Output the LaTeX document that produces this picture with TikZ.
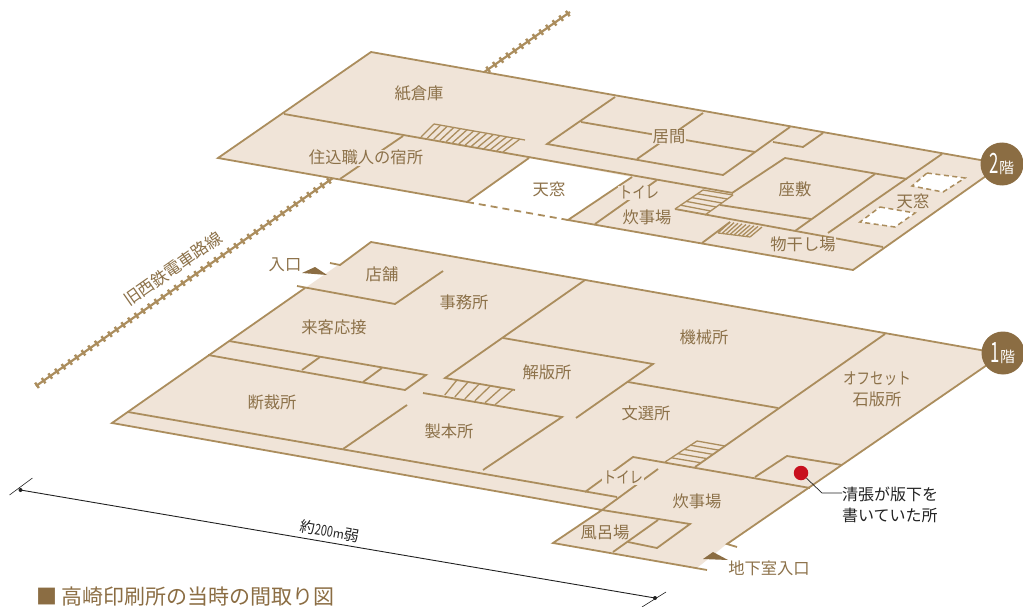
\documentclass[tikz,border=0pt]{standalone}
\usepackage{fontspec}
\setmainfont{Noto Sans CJK JP}
\usetikzlibrary{calc}
\definecolor{wallbrown}{HTML}{AB8D5D}
\definecolor{roomfill}{HTML}{F0E4D8}
\definecolor{labelbrown}{HTML}{8C7149}
\definecolor{tagbrown}{HTML}{8B6D43}
\definecolor{dotred}{HTML}{C8101E}
\definecolor{inkblack}{HTML}{222222}
\begin{document}
\begin{tikzpicture}[x=1pt,y=-1pt,
    wall/.style={draw=wallbrown,line width=1.8pt,line join=miter},
    hatch/.style={draw=wallbrown,line width=1.3pt},
    rail/.style={draw=wallbrown,line width=2.2pt},
    railtie/.style={draw=wallbrown,line width=6.5pt,dash pattern=on 2.4pt off 5.7pt},
    room/.style={text=labelbrown,font=\fontsize{16.3}{18}\selectfont,inner sep=0.5pt,yshift=-0.7pt},
    roomgap/.style={room,fill=roomfill},
    outer/.style={text=labelbrown,font=\fontsize{16.3}{18}\selectfont,inner sep=0pt,yshift=-0.7pt},
    note/.style={text=inkblack,font=\fontsize{16}{21}\selectfont,inner sep=0pt,align=left},
    tag/.style={circle,fill=tagbrown,text=white,minimum size=43pt,inner sep=0pt},
    door/.style={fill=tagbrown}]
    \useasboundingbox (0,0) rectangle (1023,607);

    % railway
    \coordinate (railA) at (36,386);
    \coordinate (railB) at (570,12);
    \draw[rail] (railA) -- (railB);
    \draw[railtie] (railA) -- (railB);

    % floor 2
    \fill[roomfill] (371,52) -- (1003,164) -- (853,270) -- (568,220) -- (632,177) -- (529,158) -- (467,202) -- (218,158) -- cycle;
    \draw[wall] (467,202) -- (218,158) -- (371,52) -- (1003,164) -- (853,270) -- (568,220) -- (632,177);
    \draw[wall] (467,202) -- (529,158);
    \draw[wall,dashed,dash pattern=on 7pt off 5pt] (467,202) -- (568,220);
    \draw[wall] (284,114) -- (733,193);
    \draw[wall] (403,136) -- (340,179);
    % living rooms
    \draw[wall] (615,97) -- (547,144) -- (723,175) -- (790,127);
    \draw[wall] (581,122) -- (755,152);
    \draw[wall] (703,113) -- (637,159);
    \draw[wall] (773,142) -- (803,147) -- (823,133);
    % zashiki
    \draw[wall] (732,193) -- (785,158) -- (907,179);
    \draw[wall] (720,205) -- (811,219);
    \draw[wall] (875,174) -- (795,231);
    \draw[wall] (942,154) -- (828,233);
    \draw[wall] (675,209) -- (883,247);
    \draw[wall] (595,224) -- (657,180);
    \draw[wall] (702,243) -- (730,222);
    % stairs
    \coordinate (stairAa) at (434,124);
    \coordinate (stairAb) at (520,139);
    \coordinate (stairAc) at (421,137);
    \coordinate (stairAd) at (503,152);
    \draw[wall,line width=1.3pt] (stairAa) -- (525,140);
    \foreach \t in {0,0.0769,...,1.01}
        \draw[hatch] ($(stairAa)!\t!(stairAb)$) -- ($(stairAc)!\t!(stairAd)$);
    \coordinate (stairBa) at (703,190);
    \coordinate (stairBb) at (675,209);
    \coordinate (stairBc) at (733,195);
    \coordinate (stairBd) at (705,215);
    \foreach \t in {0,0.2,...,0.9}
        \draw[hatch] ($(stairBa)!\t!(stairBb)$) -- ($(stairBc)!\t!(stairBd)$);
    \draw[hatch] (stairBa) -- (stairBb);
    \draw[hatch] (stairBc) -- (stairBd);
    \coordinate (stairCa) at (730,222);
    \coordinate (stairCb) at (762,227);
    \coordinate (stairCc) at (718,233);
    \coordinate (stairCd) at (750,237);
    \draw[wall,line width=1.2pt] (stairCc) -- (stairCd);
    \foreach \t in {0,0.125,...,1.01}
        \draw[hatch] ($(stairCa)!\t!(stairCb)$) -- ($(stairCc)!\t!(stairCd)$);
    % skylights
    \draw[wall,fill=white,dashed,dash pattern=on 5pt off 3.5pt,line width=1.5pt] (927,173) -- (965,178) -- (943,192) -- (912,186) -- cycle;
    \draw[wall,fill=white,dashed,dash pattern=on 5pt off 3.5pt,line width=1.5pt] (880,207) -- (915,213) -- (895,227) -- (860,222) -- cycle;

    % floor 1
    \fill[roomfill] (371,242) -- (1003,354) -- (728,543) -- (697,568) -- (553,543) -- (602,510) -- (112,423) -- cycle;
    \draw[wall] (330,263) -- (340,265) -- (371,242) -- (1003,354);
    \draw[wall] (305,288) -- (112,423) -- (602,510) -- (553,543) -- (707,570);
    \draw[wall] (737,547) -- (727,544) -- (1003,354);
    \draw[wall] (297,286) -- (395,304) -- (443,271);
    \draw[wall] (229,341) -- (426,375) -- (405,390) -- (208,355);
    \draw[wall] (320,357) -- (302,370);
    \draw[wall] (382,368) -- (363,382);
    \draw[wall] (128,412) -- (617,497);
    \draw[wall] (407,405) -- (343,449);
    \draw[wall] (423,393) -- (562,417) -- (483,470);
    \draw[wall] (515,390) -- (445,378) -- (585,280);
    \draw[wall] (503,338) -- (653,364) -- (576,418);
    \draw[wall] (628,382) -- (778,408);
    \draw[wall] (885,334) -- (695,467);
    \draw[wall] (585,492) -- (633,457) -- (810,488);
    \draw[wall] (658,469) -- (602,510) -- (690,524) -- (657,548) -- (628,542);
    \draw[wall] (658,520) -- (613,552);
    \draw[wall] (755,477) -- (787,456) -- (842,465);
    % stairs
    \coordinate (stairDa) at (445,378);
    \coordinate (stairDb) at (515,390);
    \coordinate (stairDc) at (434,393);
    \coordinate (stairDd) at (497,405);
    \foreach \t in {0.17,0.33,...,1.01}
        \draw[hatch] ($(stairDa)!\t!(stairDb)$) -- ($(stairDc)!\t!(stairDd)$);
    \coordinate (stairEa) at (697,441);
    \coordinate (stairEb) at (665,462);
    \coordinate (stairEc) at (725,446);
    \coordinate (stairEd) at (695,467);
    \foreach \t in {0,0.2,...,0.9}
        \draw[hatch] ($(stairEa)!\t!(stairEb)$) -- ($(stairEc)!\t!(stairEd)$);
    \draw[hatch] (stairEa) -- (stairEb);
    % entrances
    \fill[door] (302,273) -- (315,267) -- (327,275) -- cycle;
    \fill[door] (703,559) -- (713,552) -- (728,560) -- cycle;

    % dimension
    \coordinate (dimA) at (20.5,490);
    \coordinate (dimB) at (655,598);
    \draw[inkblack,line width=0.9pt] (dimA) -- (dimB);
    \draw[inkblack,line width=0.6pt] (9.5,495) -- (32.5,478);
    \draw[inkblack,line width=0.6pt] (642,607) -- (666,592);
    \fill[inkblack] (dimA) circle (2);
    \fill[inkblack] (dimB) circle (2);
    \node[text=inkblack,inner sep=0pt,rotate=-10,font=\fontsize{15}{17}\selectfont] (dimlabel) at (330,531) {約\scalebox{.72}[1]{200}\scalebox{.8}{m}弱};

    % labels floor 2
    \node[room] (kami) at (419,93) {紙倉庫};
    \node[roomgap] (sumikomi) at (366,157) {住込職人の宿所};
    \node[outer] (tenmadoA) at (549,189) {天窓};
    \node[roomgap] (ima) at (669,136) {居間};
    \node[roomgap] (toireA) at (639,192) {\scalebox{.82}[1]{トイレ}};
    \node[room] (suijiA) at (647,217) {炊事場};
    \node[room] (zashiki) at (795,189) {座敷};
    \node[room] (tenmadoB) at (913,201) {天窓};
    \node[roomgap] (monohoshi) at (803,244) {物干し場};

    % labels floor 1
    \node[room] (tenpo) at (382,274) {店舗};
    \node[room] (jimu) at (464,302) {事務所};
    \node[room] (raikyaku) at (334,327) {来客応接};
    \node[room] (dansai) at (272,402) {断裁所};
    \node[room] (seihon) at (449,431) {製本所};
    \node[room] (kaihan) at (547,372) {解版所};
    \node[room] (kikai) at (704,337) {機械所};
    \node[room] (bunsen) at (646,413) {文選所};
    \node[room,align=center,font=\fontsize{16.3}{21}\selectfont] (offset) at (877,389) {\scalebox{.83}[1]{オフセット}\\石版所};
    \node[room] (suijiB) at (697,501) {炊事場};
    \node[room] (furo) at (605,532) {風呂場};
    \node[roomgap] (toireB) at (623,477) {\scalebox{.82}[1]{トイレ}};
    \node[outer] (iriguchi) at (285,264) {入口};
    \node[outer] (chika) at (769,568) {地下室入口};
    \node[outer,rotate=35,font=\fontsize{16.5}{18}\selectfont] (railname) at (173,268) {旧西鉄電車路線};

    % marker
    \node[note,anchor=west] (seicho) at (842,505) {清張が版下を\\書いていた所};
    \node[circle,fill=dotred,minimum size=14.5pt,inner sep=0pt] (reddot) at (801,473) {};
    \coordinate (bend) at (822,493);
    \draw[inkblack,line width=0.7pt] (reddot) -- (bend) -- (seicho.west |- bend);

    % floor tags
    \node[tag] (floorB) at (1002,164) {\scalebox{.6}[1]{\fontsize{28}{28}\selectfont 2}\fontsize{15}{15}\selectfont 階};
    \node[tag] (floorA) at (1003,353) {\scalebox{.6}[1]{\fontsize{28}{28}\selectfont 1}\fontsize{15}{15}\selectfont 階};

    \node[text=tagbrown,anchor=west,inner sep=0pt,font=\fontsize{21}{23}\selectfont,yshift=-1pt] (title) at (36,596) {■\hspace{4pt}高崎印刷所の当時の間取り図};
\end{tikzpicture}
\end{document}
